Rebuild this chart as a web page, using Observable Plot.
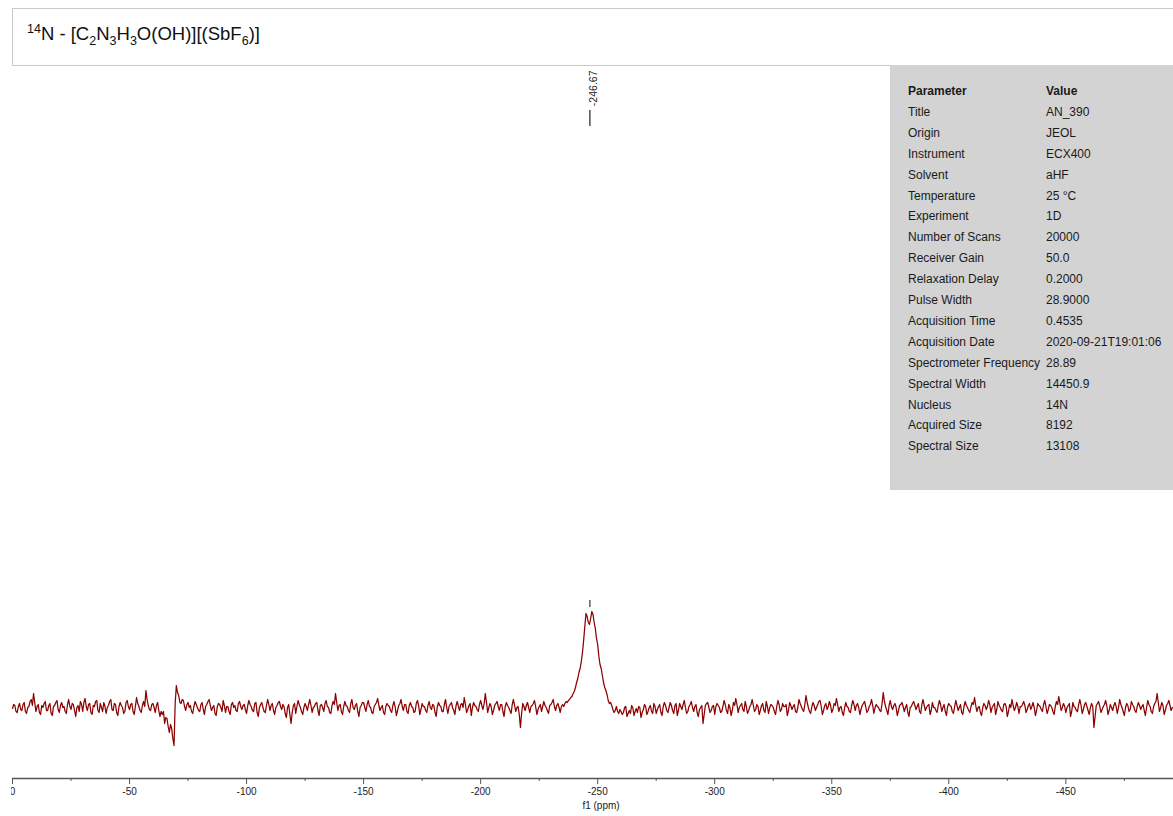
<!DOCTYPE html>
<html>
<head>
<meta charset="utf-8">
<script src="https://cdn.jsdelivr.net/npm/d3@7"></script>
<script src="https://cdn.jsdelivr.net/npm/@observablehq/plot@0.6"></script>
<style>
  html, body { margin: 0; padding: 0; background: #fff; }
  body { width: 1173px; height: 816px; position: relative; overflow: hidden;
         font-family: "Liberation Sans", Arial, sans-serif; }
  #chart { position: absolute; left: 0; top: 0; }
  #titlebox { position: absolute; left: 12px; top: 8px; width: 1200px; height: 58px;
              border: 1px solid #c9c9c9; box-sizing: border-box; background: #fff; }
  #title { position: absolute; left: 14px; top: 16px; font-size: 18.5px; line-height: 18px; color: #111; white-space: nowrap; }
  #title sub, #title sup { font-size: 12.5px; line-height: 0; }
  #params { position: absolute; left: 890px; top: 65px; width: 290px; height: 425px; background: #d3d3d3; }
  .row { position: absolute; left: 18px; font-size: 12px; line-height: 20.9px; color: #1a1a1a; white-space: nowrap; }
  .row span.v { position: absolute; left: 138px; }
  .row.head { font-weight: bold; }
  #zeroclip { position: absolute; left: 0; top: 786px; width: 11px; height: 14px; background: #fff; }
</style>
</head>
<body>
<div id="chart"></div>
<div id="titlebox"><div id="title"><sup>14</sup>N - [C<sub>2</sub>N<sub>3</sub>H<sub>3</sub>O(OH)][(SbF<sub>6</sub>)]</div></div>
<div id="params"></div>
<div id="zeroclip"></div>
<script>
// ---- data ----
const ppmStart = 0;      // first sample (ppm)
const ppmStep = -0.5;    // sample spacing (ppm)
const intensity = [
  0, 4, 3, -3, -4, 2, 5, -1, -2, 4, 6, -3, -5, 1, 2, 7, 9, 3, 15, 6,
  -3, 2, 4, -4, -6, 3, 1, 5, 7, -2, -2, 3, 5, -5, -7, 2, 3, 6, 8, -1,
  -4, 3, 6, 1, 2, -3, -5, 4, 9, 2, -1, 5, 4, -2, -8, 1, 3, -3, 7, 4,
  -3, 6, 10, 2, -2, 4, 5, -4, -6, 3, 2, 7, 8, -2, -4, 5, 1, -3, 6, 2,
  -5, 1, 3, 7, 9, -1, -2, 5, 4, -4, -7, 2, 6, 3, 1, -5, -3, 6, 8, 2,
  -1, 4, 5, -3, -6, 2, 11, 5, 2, -2, -4, 3, 7, 2, 18, 9, 3, -1, -2, 4,
  5, 1, -4, 3, 6, -2, -8, -3, -6, -3, -15, -9, -10, -18, -24, -16, -20, -30, -37, 5,
  23, 16, 13, 6, 5, 9, 8, 2, -2, 4, 6, 1, 3, -3, -5, 2, 7, 4, 1, -2,
  -3, 4, 6, -1, -6, 2, 4, 7, 9, 3, -2, 1, 3, -5, -7, 2, 5, 4, 1, -3,
  8, 3, -4, 2, 2, -3, -6, 4, 6, 1, 3, -2, -3, 5, 7, 2, -1, 3, 4, -1,
  -5, 3, 8, 4, 2, -2, -3, 5, 6, -4, -8, 1, 4, 6, 1, -3, -4, 3, 9, 4,
  -2, 3, 5, -2, -6, 1, 3, 6, 7, 2, -1, 4, 2, -5, -9, 1, 4, -6, -15, -4,
  3, 5, -5, 2, 8, 4, 1, -3, -6, 1, 5, 2, -2, 4, 9, 3, -4, 1, 2, 5,
  6, -2, -7, 3, 4, 1, -3, 5, 8, 2, 1, -4, -5, 3, 7, 4, 15, 6, -2, 3,
  4, -3, -6, 2, 7, 3, 2, -2, -4, 5, 9, 1, -1, 3, 5, -3, -8, 1, 3, 6,
  6, 1, -3, 4, 8, 2, 1, -4, -5, 2, 4, 6, 10, 3, -2, 1, 3, -4, -6, 2,
  5, 3, 2, -2, -4, 3, 7, 1, -7, -2, 3, 5, 9, 2, -2, 4, 4, -3, -5, 3,
  6, 2, 1, -4, -3, 5, 8, 3, -6, -1, 5, 2, 2, -2, -4, 3, 7, 1, -1, 4,
  3, -4, -8, 2, 6, 3, 2, -3, -3, 4, 9, 1, -5, 2, 4, 6, 1, -2, -6, 3,
  7, 2, -2, 4, 5, 1, 11, 4, -4, -1, 3, 5, -7, 1, 6, 3, 2, -1, -3, 4,
  8, 3, -1, 5, 15, 6, -4, 1, 5, 2, -6, -2, 3, 5, 7, 2, -2, 4, 4, -3,
  -8, 2, 6, 3, 1, -2, -5, 4, 9, 3, -3, 1, 2, -6, -19, -5, 5, 2, -2, 3,
  6, 1, -4, 2, 3, 5, 8, 2, -6, -1, 2, 4, -3, 2, 7, 3, 1, -2, -5, 3,
  4, 6, 9, 2, -2, 3, 5, 1, -4, 2, 4, 2, 5, 7, 6, 8, 9, 11, 12, 15,
  17, 21, 26, 30, 36, 40, 47, 56, 68, 82, 95, 92, 86, 84, 90, 97, 94, 86, 80, 70,
  64, 52, 44, 40, 33, 26, 21, 18, 14, 8, 5, 6, 3, -1, -4, -2, 2, -3, -5, -1,
  -3, -6, -4, 1, 2, -8, -5, -2, -5, 3, 1, -7, -3, 0, -4, 2, 1, -9, -4, -1,
  4, 2, -6, -3, 1, 3, -3, -5, 5, 2, -5, -1, 2, 4, -4, -7, 2, 6, 3, -2,
  -4, 1, 6, 3, -2, -5, 3, 5, -7, -2, 5, 2, -1, 4, 8, 1, -5, -3, 2, 4,
  7, 1, -3, 2, 4, -4, -8, -1, 1, 3, -15, -6, 3, 5, 6, 1, -4, -2, 2, 3,
  -6, 2, 5, 3, 1, -4, -3, 2, 8, 4, -2, -5, 4, 1, -7, -2, 6, 3, 10, 4,
  -4, 1, 3, 5, -1, -3, 7, 2, -5, -2, 2, 4, 9, 3, -3, -1, 4, 2, -6, -2,
  3, 5, -2, -4, 7, 2, -5, 1, 4, 3, 1, -3, -6, 2, 8, 4, -3, -1, 5, 2,
  2, 4, -7, -2, 6, 3, -1, 2, 4, -3, -4, 1, 9, 5, 2, -1, -3, 4, 13, 6,
  1, -3, -5, 2, 6, 3, -2, 1, 4, 7, 8, 2, -6, -2, 3, 5, -1, 2, 7, 3,
  -4, -1, 5, 3, 10, 4, -3, 1, 2, -4, -7, 1, 6, 2, 1, -3, -4, 3, 8, 4,
  -2, 3, 5, 1, -6, -1, 3, 5, 7, 2, -4, -2, 2, 4, 9, 3, -5, 1, 4, 2,
  1, -2, -3, 5, 16, 7, 2, -2, -6, 3, 8, 2, -1, 3, 5, 1, -7, -2, 3, 4,
  6, 2, -3, 1, 4, -4, -8, 1, 2, 5, 7, 3, -1, 2, 5, -3, -5, 4, 9, 3,
  -2, 1, 3, 4, -6, -2, 6, 1, 1, -2, -4, 3, 8, 4, -3, 1, 4, -3, -7, 2,
  5, 3, 2, -3, -5, 2, 8, 3, -2, 1, 4, -4, -6, 2, 7, 3, 1, -2, -4, 2,
  6, 4, 11, 3, -3, 1, 2, -4, -7, 1, 5, 3, -1, 2, 8, 4, -4, 1, 3, 5,
  -6, -1, 7, 3, 1, -2, -3, 4, 5, 2, -8, -3, 4, 1, 9, 3, -2, 1, 6, 2,
  -5, 2, 2, 4, 7, 3, -4, -1, 3, 5, -1, 2, 6, 1, -7, -2, 5, 3, 2, -1,
  -3, 4, 8, 2, -5, -1, 4, 3, 1, -3, -6, 2, 7, 4, 12, 5, -2, 1, 5, 2,
  -4, 1, 3, 5, -8, -3, 6, 2, 1, -2, -3, 4, 9, 3, -5, -1, 4, 6, 2, -2,
  -6, 1, 5, 2, -19, -8, 3, 5, 7, 2, -4, -1, 2, 4, 8, 3, -6, -2, 4, 1,
  -2, 3, 6, 2, -5, 1, 9, 4, 1, -3, -7, 1, 5, 3, -3, -1, 7, 4, 2, -2,
  -4, 2, 6, 3, -1, 2, 4, -2, -7, 1, 8, 4, 2, -3, -5, 2, 5, 7, 15, 6,
  -3, 1, 6, 3, -6, -2, 3, 5, 8, 3, -2, 1
];
const peakPpm = [-246.67];
const peakLabels = ["-246.67"];
const peakHeights = [96];
const majorTicks = [0, -50, -100, -150, -200, -250, -300, -350, -400, -450];
const minorTicks = [-25, -75, -125, -175, -225, -275, -325, -375, -425, -475];
const xDomain = [0, -496];
const yDomain = [-70, 648];
const axisLabel = "f1 (ppm)";
const paramNames = ["Title", "Origin", "Instrument", "Solvent", "Temperature", "Experiment",
  "Number of Scans", "Receiver Gain", "Relaxation Delay", "Pulse Width", "Acquisition Time",
  "Acquisition Date", "Spectrometer Frequency", "Spectral Width", "Nucleus", "Acquired Size", "Spectral Size"];
const paramValues = ["AN_390", "JEOL", "ECX400", "aHF", "25 °C", "1D", "20000", "50.0", "0.2000",
  "28.9000", "0.4535", "2020-09-21T19:01:06", "28.89", "14450.9", "14N", "8192", "13108"];

// ---- build ----
const spectrum = intensity.map((v, i) => ({ppm: ppmStart + i * ppmStep, v}));
const peaks = peakPpm.map((p, i) => ({ppm: p, label: peakLabels[i], top: peakHeights[i]}));

const chart = Plot.plot({
  width: 1173,
  height: 816,
  marginLeft: 12,
  marginRight: 0,
  marginTop: 60,
  marginBottom: 38,
  style: {fontFamily: "'Liberation Sans', Arial, sans-serif", background: "transparent", overflow: "visible"},
  x: {domain: xDomain, axis: null},
  y: {domain: yDomain, axis: null},
  marks: [
    Plot.line(spectrum, {x: "ppm", y: "v", stroke: "#8b0000", strokeWidth: 1.25}),
    Plot.ruleX(peaks, {x: "ppm", y1: d => d.top + 5, y2: d => d.top + 12, stroke: "#333", strokeWidth: 1.2}),
    Plot.text(peaks, {x: "ppm", text: "label", rotate: -90, frameAnchor: "top", textAnchor: "end", dy: 10, fontSize: 10.5, fill: "#222"}),
    Plot.ruleX(peaks, {x: "ppm", y1: yDomain[1] - 50, y2: yDomain[1] - 66, stroke: "#222", strokeWidth: 1.2}),
    Plot.ruleY([yDomain[0]], {stroke: "#555", strokeWidth: 1.3}),
    Plot.axisX({ticks: majorTicks, tickSize: 6, tickPadding: 3, fontSize: 10, stroke: "#555", fill: "#222", tickFormat: d => `${d}`, label: null}),
    Plot.axisX({ticks: minorTicks, tickSize: 3, stroke: "#555", tickFormat: d => "", label: null}),
    Plot.text([axisLabel], {frameAnchor: "bottom", dx: 8, dy: 30, fontSize: 10, fill: "#222"})
  ]
});
document.getElementById("chart").appendChild(chart);

// parameter table
const box = document.getElementById("params");
const rows = [["Parameter", "Value", true]].concat(paramNames.map((n, i) => [n, paramValues[i], false]));
rows.forEach((r, i) => {
  const div = document.createElement("div");
  div.className = "row" + (r[2] ? " head" : "");
  div.style.top = (16 + i * 20.9) + "px";
  div.textContent = r[0];
  const v = document.createElement("span");
  v.className = "v";
  v.textContent = r[1];
  div.appendChild(v);
  box.appendChild(div);
});
</script>
</body>
</html>
